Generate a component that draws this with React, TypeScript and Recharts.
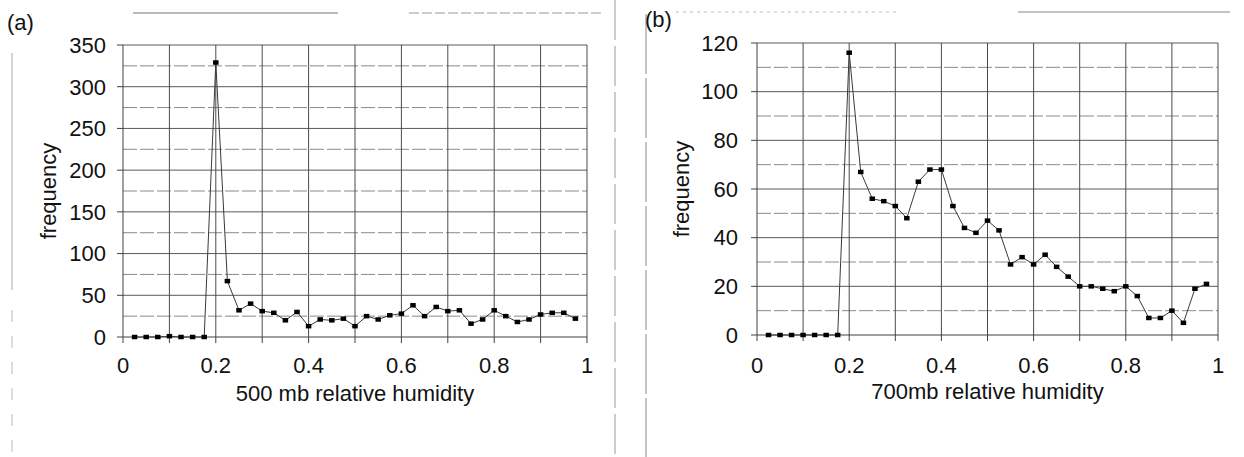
import { LineChart, Line, XAxis, YAxis, ReferenceLine, Label } from "recharts";

// bin centres of relative humidity (shared by both panels)
const HUMIDITY = [
  0.025, 0.05, 0.075, 0.1, 0.125, 0.15, 0.175, 0.2, 0.225, 0.25, 0.275, 0.3, 0.325,
  0.35, 0.375, 0.4, 0.425, 0.45, 0.475, 0.5, 0.525, 0.55, 0.575, 0.6, 0.625, 0.65,
  0.675, 0.7, 0.725, 0.75, 0.775, 0.8, 0.825, 0.85, 0.875, 0.9, 0.925, 0.95, 0.975,
];

// (a) 500 mb
const FREQ_500 = [
  0, 0, 0, 1, 0, 0, 0, 329, 67, 32, 40, 31, 29, 20, 30, 13, 21, 20, 22, 13, 25, 21, 26,
  28, 38, 25, 36, 31, 32, 16, 21, 32, 25, 18, 21, 27, 29, 29, 22,
];

// (b) 700 mb
const FREQ_700 = [
  0, 0, 0, 0, 0, 0, 0, 116, 67, 56, 55, 53, 48, 63, 68, 68, 53, 44, 42, 47, 43, 29, 32,
  29, 33, 28, 24, 20, 20, 19, 18, 20, 16, 7, 7, 10, 5, 19, 21,
];

const X_TICKS = [0, 0.1, 0.2, 0.3, 0.4, 0.5, 0.6, 0.7, 0.8, 0.9, 1];
const X_TICK_LABELS = ["0", "", "0.2", "", "0.4", "", "0.6", "", "0.8", "", "1"];
const GRID_X = [0.1, 0.2, 0.3, 0.4, 0.5, 0.6, 0.7, 0.8, 0.9, 1];

const A_Y_TICKS = [0, 50, 100, 150, 200, 250, 300, 350];
const A_MINOR_Y = [25, 75, 125, 175, 225, 275, 325];
const B_Y_TICKS = [0, 20, 40, 60, 80, 100, 120];
const B_MINOR_Y = [10, 30, 50, 70, 90, 110];

const FONT = "'Liberation Sans', Arial, Helvetica, sans-serif";
const FS = 22;

const Square = (props: any) => {
  const { cx, cy, index } = props;
  if (cx == null || cy == null) return <g key={index} />;
  return <rect key={index} x={cx - 2.75} y={cy - 2.25} width={5.5} height={4.5} fill="#000" />;
};

interface PanelProps {
  left: number;
  values: number[];
  yTicks: number[];
  minorY: number[];
  xTitle: string;
  margin: { top: number; right: number; bottom: number; left: number };
  yTickMargin: number;
  xTickMargin: number;
  yTitleDx: number;
}

function Panel({ left, values, yTicks, minorY, xTitle, margin, yTickMargin, xTickMargin, yTitleDx }: PanelProps) {
  const data = HUMIDITY.map((h, i) => ({ h, f: values[i] }));
  const yMax = yTicks[yTicks.length - 1];
  const majorY = yTicks.slice(1);

  return (
    <div style={{ position: "absolute", left, top: 0 }}>
      <LineChart width={left === 0 ? 620 : 624} height={457} data={data} margin={margin}>
        {minorY.map((v) => (
          <ReferenceLine key={"m" + v} y={v} stroke="#8a8a8a" strokeDasharray="14 3" />
        ))}
        {majorY.map((v) => (
          <ReferenceLine key={"y" + v} y={v} stroke="#5a5a5a" />
        ))}
        {GRID_X.map((v) => (
          <ReferenceLine key={"x" + v} x={v} stroke="#4a4a4a" />
        ))}
        <XAxis
          dataKey="h"
          type="number"
          domain={[0, 1]}
          ticks={X_TICKS}
          interval={0}
          tickFormatter={(_v: number, i: number) => X_TICK_LABELS[i]}
          tick={{ fill: "#111", fontSize: FS, fontFamily: FONT }}
          tickSize={6}
          tickMargin={xTickMargin}
          axisLine={{ stroke: "#404040" }}
          tickLine={{ stroke: "#404040" }}
          height={64}
        >
          <Label
            value={xTitle}
            position="insideBottom"
            offset={0}
            fill="#111"
            style={{ fontSize: FS, fontFamily: FONT }}
          />
        </XAxis>
        <YAxis
          type="number"
          domain={[0, yMax]}
          ticks={yTicks}
          interval={0}
          tick={{ fill: "#111", fontSize: FS, fontFamily: FONT }}
          tickSize={6}
          tickMargin={yTickMargin}
          axisLine={{ stroke: "#404040" }}
          tickLine={{ stroke: "#404040" }}
          width={80}
        >
          <Label
            content={(p: any) => {
              const vb = p.viewBox || { x: 0, y: 0, height: 0 };
              const x = vb.x + yTitleDx;
              const y = vb.y + vb.height / 2;
              return (
                <text
                  x={x}
                  y={y}
                  transform={`rotate(-90, ${x}, ${y})`}
                  textAnchor="middle"
                  fill="#111"
                  style={{ fontSize: FS, fontFamily: FONT }}
                >
                  frequency
                </text>
              );
            }}
          />
        </YAxis>
        <Line
          dataKey="f"
          type="linear"
          stroke="#3a3a3a"
          strokeWidth={1}
          dot={Square}
          activeDot={false}
          isAnimationActive={false}
        />
      </LineChart>
    </div>
  );
}

export default function App() {
  return (
    <div
      style={{
        position: "absolute",
        left: 0,
        top: 0,
        width: 1244,
        height: 457,
        background: "#fff",
        overflow: "hidden",
        fontFamily: FONT,
      }}
    >
      {/* scan edges between and above the panels */}
      <svg width={1244} height={457} style={{ position: "absolute", left: 0, top: 0 }}>
        <line x1={133} y1={13} x2={338} y2={13} stroke="#777" />
        <line x1={409} y1={13} x2={602} y2={13} stroke="#999" strokeDasharray="10 3" />
        <line x1={676} y1={12} x2={898} y2={12} stroke="#bbb" strokeDasharray="3 4" />
        <line x1={1018} y1={12} x2={1230} y2={12} stroke="#888" />
        <line x1={12} y1={53} x2={12} y2={290} stroke="#aaa" />
        <line x1={12} y1={310} x2={12} y2={457} stroke="#bbb" strokeDasharray="12 14" />
        <line x1={615} y1={0} x2={615} y2={457} stroke="#999" strokeDasharray="40 6" />
        <line x1={646} y1={14} x2={646} y2={457} stroke="#888" strokeDasharray="60 4" />
        <text x={7} y={30} fill="#111" style={{ fontSize: FS, fontFamily: FONT }}>
          (a)
        </text>
        <text x={645} y={27} fill="#111" style={{ fontSize: FS, fontFamily: FONT }}>
          (b)
        </text>
      </svg>
      <Panel
        left={0}
        values={FREQ_500}
        yTicks={A_Y_TICKS}
        minorY={A_MINOR_Y}
        xTitle="500 mb relative humidity"
        margin={{ top: 45, right: 33, bottom: 56, left: 43 }}
        yTickMargin={11}
        xTickMargin={14}
        yTitleDx={12.5}
      />
      <Panel
        left={620}
        values={FREQ_700}
        yTicks={B_Y_TICKS}
        minorY={B_MINOR_Y}
        xTitle="700mb relative humidity"
        margin={{ top: 43, right: 26, bottom: 58, left: 57 }}
        yTickMargin={13}
        xTickMargin={16}
        yTitleDx={11.7}
      />
    </div>
  );
}
